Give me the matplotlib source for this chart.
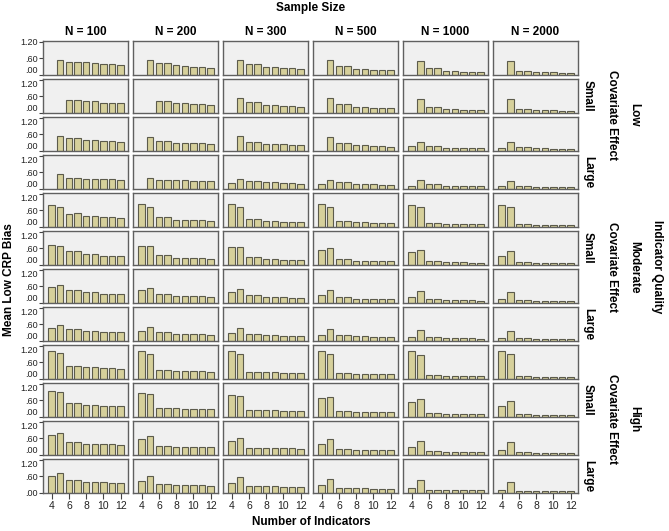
import numpy as np
import matplotlib
matplotlib.use("Agg")
import matplotlib.pyplot as plt

plt.rcParams['font.family'] = ['Liberation Sans', 'DejaVu Sans']

n_labels = ["N = 100", "N = 200", "N = 300", "N = 500", "N = 1000", "N = 2000"]
indicators = [4, 5, 6, 7, 8, 9, 10, 11, 12]
quality_labels = ["Low", "Moderate", "High"]
effect_labels = ["Small", "Large"]

# each row: one list of 9 values (indicators 4..12) per sample size, None = no bar
low_small_a = [
    [None, .55, .48, .48, .46, .43, .41, .40, .36],
    [None, .54, .43, .43, .35, .34, .30, .30, .26],
    [None, .54, .38, .38, .28, .28, .25, .24, .22],
    [None, .54, .32, .32, .22, .22, .19, .18, .17],
    [None, .52, .25, .24, .14, .14, .12, .12, .11],
    [None, .52, .16, .16, .11, .11, .10, .08, .08],
]
low_small_b = [
    [None, None, .48, .48, .44, .43, .37, .37, .35],
    [None, None, .43, .43, .35, .37, .31, .31, .28],
    [None, .53, .40, .40, .29, .29, .25, .25, .23],
    [None, .53, .32, .32, .22, .22, .18, .18, .17],
    [None, .50, .23, .23, .14, .14, .12, .12, .11],
    [None, .50, .16, .16, .11, .10, .10, .08, .08],
]
low_large_a = [
    [None, .55, .48, .47, .40, .40, .37, .37, .34],
    [None, .52, .36, .36, .30, .30, .29, .28, .25],
    [None, .53, .31, .31, .25, .25, .24, .23, .20],
    [None, .52, .28, .28, .20, .20, .18, .17, .16],
    [.17, .34, .18, .18, .12, .12, .11, .11, .10],
    [.12, .31, .13, .13, .10, .10, .08, .08, .07],
]
low_large_b = [
    [None, .54, .41, .40, .37, .37, .37, .36, .32],
    [None, .39, .34, .34, .31, .31, .29, .29, .27],
    [.23, .37, .30, .30, .24, .24, .22, .22, .18],
    [.17, .34, .25, .25, .19, .19, .17, .16, .13],
    [.12, .31, .18, .18, .12, .12, .11, .10, .10],
    [.10, .29, .11, .11, .08, .08, .07, .07, .06],
]
mod_small_a = [
    [.80, .72, .48, .49, .38, .38, .35, .35, .31],
    [.82, .71, .35, .35, .26, .26, .25, .25, .23],
    [.82, .72, .29, .29, .22, .22, .19, .19, .18],
    [.82, .71, .22, .22, .17, .17, .14, .14, .13],
    [.80, .71, .14, .14, .12, .12, .11, .11, .10],
    [.79, .72, .11, .11, .08, .08, .08, .07, .07],
]
mod_small_b = [
    [.72, .68, .50, .50, .38, .38, .34, .34, .31],
    [.68, .67, .36, .36, .26, .26, .24, .24, .23],
    [.65, .65, .28, .28, .22, .22, .19, .19, .18],
    [.55, .60, .22, .22, .16, .16, .14, .14, .13],
    [.46, .54, .13, .13, .11, .11, .10, .08, .08],
    [.32, .49, .10, .10, .07, .07, .06, .06, .06],
]
mod_large_a = [
    [.58, .64, .46, .46, .38, .38, .34, .34, .31],
    [.47, .55, .32, .32, .26, .26, .24, .24, .23],
    [.38, .50, .28, .28, .22, .22, .20, .19, .18],
    [.29, .47, .20, .20, .16, .16, .14, .14, .13],
    [.22, .42, .13, .13, .11, .11, .10, .10, .08],
    [.14, .38, .10, .10, .07, .07, .07, .06, .06],
]
mod_large_b = [
    [.48, .58, .43, .43, .37, .37, .34, .34, .31],
    [.36, .49, .31, .31, .25, .25, .24, .24, .22],
    [.29, .46, .26, .26, .22, .22, .19, .19, .18],
    [.23, .42, .20, .20, .17, .17, .14, .14, .13],
    [.14, .38, .13, .13, .11, .11, .10, .10, .08],
    [.11, .36, .10, .10, .07, .07, .07, .06, .06],
]
high_small_a = [
    [1.02, .92, .48, .48, .42, .42, .40, .38, .37],
    [1.01, .90, .32, .32, .29, .29, .28, .28, .26],
    [1.01, .89, .26, .26, .24, .24, .23, .23, .22],
    [1.01, .88, .20, .20, .18, .18, .17, .17, .17],
    [1.01, .86, .14, .14, .12, .12, .12, .11, .11],
    [1.00, .88, .10, .10, .08, .08, .08, .07, .07],
]
high_small_b = [
    [.95, .90, .49, .49, .42, .42, .40, .40, .38],
    [.86, .82, .34, .34, .31, .30, .30, .29, .28],
    [.78, .77, .26, .26, .24, .24, .23, .23, .22],
    [.68, .72, .20, .20, .18, .18, .17, .17, .17],
    [.54, .64, .13, .13, .12, .12, .11, .11, .11],
    [.40, .56, .10, .10, .08, .08, .07, .07, .07],
]
high_large_a = [
    [.73, .79, .46, .46, .41, .41, .38, .38, .37],
    [.59, .67, .32, .32, .30, .30, .29, .29, .28],
    [.49, .62, .26, .26, .25, .25, .24, .24, .23],
    [.38, .56, .20, .20, .18, .18, .18, .17, .17],
    [.28, .50, .13, .13, .12, .12, .11, .11, .11],
    [.18, .47, .10, .10, .08, .08, .08, .07, .07],
]
high_large_b = [
    [.61, .71, .46, .46, .41, .41, .38, .37, .37],
    [.44, .61, .31, .31, .29, .29, .28, .28, .26],
    [.36, .56, .26, .26, .24, .24, .23, .23, .22],
    [.28, .50, .18, .18, .17, .17, .16, .16, .16],
    [.19, .46, .11, .11, .11, .11, .10, .10, .10],
    [.12, .41, .07, .07, .07, .07, .06, .06, .06],
]

rows = [low_small_a, low_small_b, low_large_a, low_large_b,
        mod_small_a, mod_small_b, mod_large_a, mod_large_b,
        high_small_a, high_small_b, high_large_a, high_large_b]

W, H = 669, 531
fig = plt.figure(figsize=(W / 100, H / 100), dpi=100)
gs = fig.add_gridspec(12, 6, left=43 / W, right=578 / W, top=1 - 41 / H, bottom=1 - 493 / H,
                      wspace=0.059, hspace=0.118)

bar_color = "#d6d09b"
edge_color = "#5c5b4c"

for r, row in enumerate(rows):
    for c, vals in enumerate(row):
        ax = fig.add_subplot(gs[r, c])
        ax.set_facecolor("#f0f0f0")
        xs = [x for x, v in zip(indicators, vals) if v is not None]
        hs = [v for v in vals if v is not None]
        ax.bar(xs, hs, width=0.75, color=bar_color, edgecolor=edge_color, linewidth=0.8)
        ax.set_xlim(3.0, 12.85)
        ax.set_ylim(0, 1.22)
        for s in ax.spines.values():
            s.set_color("#606060")
            s.set_linewidth(1.0)
        if c == 0:
            ax.set_yticks([0, 0.6, 1.2])
            ax.set_yticklabels([".00", ".60", "1.20"], fontsize=6.5, color="#222222")
            ax.tick_params(axis='y', length=3, width=0.8, pad=1, color="#444444")
            # keep stacked panels' end labels apart
            tl = ax.get_yticklabels()
            if r < 11:
                tl[0].set_va('bottom')
            if r > 0:
                tl[2].set_va('top')
        else:
            ax.set_yticks([])
        if r == 11:
            ax.set_xticks([4, 6, 8, 10, 12])
            ax.set_xticklabels(["4", "6", "8", "10", "12"], fontsize=7.5, color="#222222")
            ax.tick_params(axis='x', length=4, width=0.8, pad=2, color="#444444")
        else:
            ax.set_xticks([])
        if r == 0:
            ax.set_title(n_labels[c], fontsize=8.5, fontweight='bold', pad=4)

def fx(px):
    return px / W

def fy(py):
    return 1 - py / H

lab = dict(fontsize=8.5, fontweight='bold', ha='center', va='center')
fig.text(fx(311), fy(8), "Sample Size", **lab)
fig.text(fx(311), fy(522), "Number of Indicators", **lab)
fig.text(fx(9), fy(280), "Mean Low CRP Bias", rotation=90, **lab)

for q in range(3):
    block_top = 41 + q * 4 * 38
    block_mid = block_top + (4 * 38 - 4) / 2
    for k in range(2):
        row_mid = block_top + (2 * k + 1) * 38 + 17
        fig.text(fx(588), fy(row_mid), effect_labels[k], rotation=-90, **lab)
    fig.text(fx(612), fy(block_mid), "Covariate Effect", rotation=-90, **lab)
    fig.text(fx(634), fy(block_mid), quality_labels[q], rotation=-90, **lab)
fig.text(fx(657), fy(267), "Indicator Quality", rotation=-90, **lab)

fig.savefig("out.png", dpi=100)
